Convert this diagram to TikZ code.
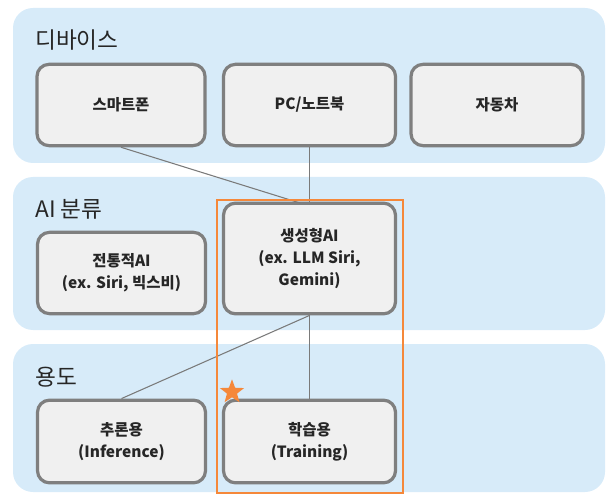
\documentclass[tikz,border=0pt]{standalone}
\usepackage{fontspec}
\setmainfont{Noto Sans CJK KR}
\usetikzlibrary{shapes.geometric}
\definecolor{panelblue}{HTML}{D7EBF9}
\definecolor{boxfill}{HTML}{F0F0F0}
\definecolor{boxline}{HTML}{7F7F7F}
\definecolor{orangec}{HTML}{F5883A}
\definecolor{linec}{HTML}{7A7A7A}
\tikzset{
  panel/.style={fill=panelblue, draw=none, rounded corners=15pt},
  ptitle/.style={anchor=west, font=\fontsize{17}{20}\selectfont, text=black!85, inner sep=0pt},
  abox/.style={draw=boxline, fill=boxfill, line width=2.4pt, rounded corners=9pt, align=center,
    font=\fontsize{11.6}{16.8}\selectfont\bfseries, text=black!85, inner sep=0pt},
  conn/.style={draw=linec, line width=0.8pt},
}
\begin{document}
\begin{tikzpicture}[x=0.75pt,y=-0.75pt]
\useasboundingbox (0,0) rectangle (606,495);
% panels
\fill[panel] (13,8) rectangle (605,163);
\fill[panel] (13,177) rectangle (605,330);
\fill[panel] (13,344) rectangle (605,492);
\node[ptitle] (t1) at (35,40) {디바이스};
\node[ptitle] (t2) at (35,209) {AI 분류};
\node[ptitle] (t3) at (35,377) {용도};
% boxes
\node[abox, minimum width=126pt, minimum height=61pt] (phone) at (121,105) {스마트폰};
\node[abox, minimum width=129pt, minimum height=61pt] (pc) at (309.5,105) {PC/노트북};
\node[abox, minimum width=129pt, minimum height=61pt] (car) at (497,105) {자동차};
\node[abox, minimum width=126pt, minimum height=61pt] (trad) at (121.5,273) {전통적AI\\(ex. Siri, 빅스비)};
\node[abox, minimum width=129pt, minimum height=83pt] (gen) at (309.5,258.5) {생성형AI\\(ex. LLM Siri,\\Gemini)};
\node[abox, minimum width=126pt, minimum height=62pt] (inf) at (121.5,441.5) {추론용\\(Inference)};
\node[abox, minimum width=129pt, minimum height=62pt] (train) at (309.5,441.5) {학습용\\(Training)};
% connectors
\coordinate (gtop) at (300,203);
\draw[conn] (phone.south) -- (gtop);
\draw[conn] (pc.south) -- (pc.south |- gen.north);
\draw[conn] (gen.south) -- (inf.north);
\draw[conn] (gen.south) -- (train.north);
% orange highlight
\draw[orangec, line width=1.6pt] (217,200) rectangle (403,493);
\node[star, star points=5, star point ratio=2.4, fill=orangec, inner sep=0pt, minimum size=19pt] (st) at (232,392) {};
\end{tikzpicture}
\end{document}
